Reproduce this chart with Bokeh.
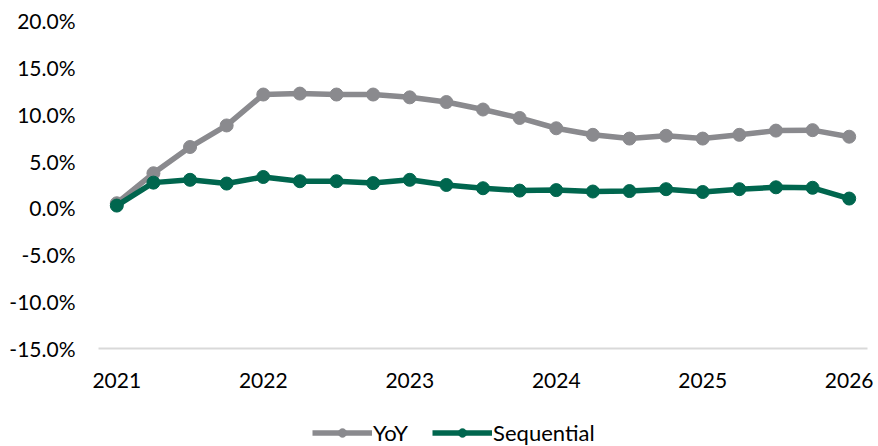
from bokeh.plotting import figure
from bokeh.layouts import column
from bokeh.models import (FixedTicker, PrintfTickFormatter, Range1d, Legend, LegendItem)
from bokeh.embed import file_html
from bokeh.resources import INLINE

# ---- data (quarterly, 2021 .. 2026) ----
quarters = ["2021Q1", "2021Q2", "2021Q3", "2021Q4",
            "2022Q1", "2022Q2", "2022Q3", "2022Q4",
            "2023Q1", "2023Q2", "2023Q3", "2023Q4",
            "2024Q1", "2024Q2", "2024Q3", "2024Q4",
            "2025Q1", "2025Q2", "2025Q3", "2025Q4",
            "2026Q1"]
yoy = [0.5, 3.7, 6.5, 8.8, 12.1, 12.2, 12.1, 12.1, 11.8, 11.3, 10.5,
       9.6, 8.5, 7.8, 7.4, 7.7, 7.4, 7.8, 8.25, 8.3, 7.6]
sequential = [0.25, 2.7, 3.0, 2.6, 3.3, 2.85, 2.85, 2.65, 3.0, 2.45, 2.1,
              1.85, 1.9, 1.75, 1.8, 2.0, 1.7, 2.0, 2.2, 2.15, 1.0]
year_labels = ["2021", "2022", "2023", "2024", "2025", "2026"]
y_ticks = [-15, -10, -5, 0, 5, 10, 15, 20]
series_names = ["YoY", "Sequential"]

x = list(range(len(quarters)))
year_pos = [quarters.index(y + "Q1") for y in year_labels]

FONT = "Lato"
GRAY = "#8a8a8e"
GREEN = "#00664e"
LW = 5.5
MS = 13

# ---------------- main chart ----------------
p = figure(width=878, height=410, output_backend="svg", toolbar_location=None,
           x_range=Range1d(-0.5, len(quarters) - 0.5),
           y_range=Range1d(y_ticks[0], y_ticks[-1]),
           min_border_left=98, min_border_right=11, min_border_top=20,
           min_border_bottom=62)
p.outline_line_color = None
p.background_fill_color = "white"
p.border_fill_color = "white"
p.xgrid.grid_line_color = None
p.ygrid.grid_line_color = None

p.line(x, yoy, line_color=GRAY, line_width=LW, line_join="round")
p.scatter(x, yoy, size=MS, fill_color=GRAY, line_color=GRAY)
p.line(x, sequential, line_color=GREEN, line_width=LW, line_join="round")
p.scatter(x, sequential, size=MS, fill_color=GREEN, line_color=GREEN)

# x axis
p.xaxis.ticker = FixedTicker(ticks=year_pos)
p.xaxis.major_label_overrides = {pos: lab for pos, lab in zip(year_pos, year_labels)}
p.xaxis.axis_line_color = "#d9d9d9"
p.xaxis.axis_line_width = 2
p.xaxis.major_tick_line_color = None
p.xaxis.minor_tick_line_color = None
p.xaxis.major_tick_out = 0
p.xaxis.major_label_standoff = 24
p.xaxis.major_label_text_font = FONT
p.xaxis.major_label_text_font_size = "21px"
p.xaxis.major_label_text_color = "black"

# y axis
p.yaxis.ticker = FixedTicker(ticks=y_ticks)
p.yaxis.formatter = PrintfTickFormatter(format="%.1f%%")
p.yaxis.axis_line_color = None
p.yaxis.major_tick_line_color = None
p.yaxis.minor_tick_line_color = None
p.yaxis.major_tick_out = 0
p.yaxis.major_label_standoff = 23
p.yaxis.major_label_text_font = FONT
p.yaxis.major_label_text_font_size = "21px"
p.yaxis.major_label_text_color = "black"

# ---------------- legend strip ----------------
lg = figure(width=878, height=36, output_backend="svg", toolbar_location=None,
            x_range=Range1d(1000, 1001), y_range=Range1d(1000, 1001),
            x_axis_location=None, y_axis_location=None,
            min_border_left=0, min_border_right=0, min_border_top=0,
            min_border_bottom=0)
lg.outline_line_color = None
lg.xgrid.grid_line_color = None
lg.ygrid.grid_line_color = None
l1 = lg.line(x, yoy, line_color=GRAY, line_width=LW)
m1 = lg.scatter(x, yoy, size=MS, fill_color=GRAY, line_color=GRAY)
l2 = lg.line(x, sequential, line_color=GREEN, line_width=LW)
m2 = lg.scatter(x, sequential, size=MS, fill_color=GREEN, line_color=GREEN)

legend = Legend(items=[LegendItem(label=series_names[0], renderers=[l1, m1]),
                       LegendItem(label=series_names[1], renderers=[l2, m2])],
                orientation="horizontal", location=(214, 0),
                glyph_width=60, glyph_height=21, label_height=21,
                label_standoff=1, spacing=24, padding=0, margin=0,
                border_line_color=None, background_fill_alpha=0,
                label_text_font=FONT, label_text_font_size="22px",
                label_text_color="black")
lg.add_layout(legend)

layout = column(p, lg, spacing=0)
open("out.html", "w").write(file_html(layout, INLINE))
